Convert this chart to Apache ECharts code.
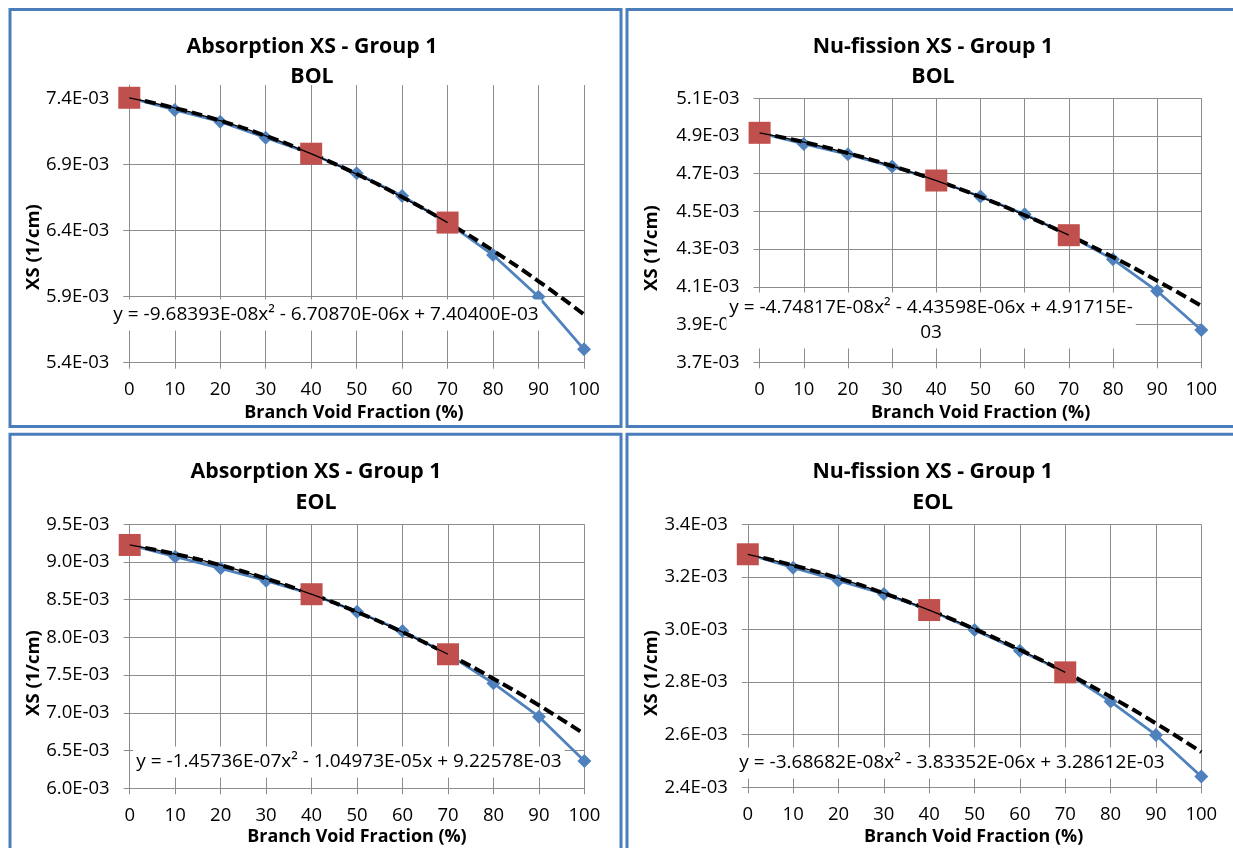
<!DOCTYPE html>
<html><head><meta charset="utf-8">
<script src="https://cdn.jsdelivr.net/npm/echarts@6/dist/echarts.min.js"></script>
<style>html,body{margin:0;padding:0;background:#fff}#c{width:1233px;height:848px}</style>
</head><body><div id="c"></div>
<script>
// ---- data (XS in 1/cm) ----
const voidFraction = [0, 10, 20, 30, 40, 50, 60, 70, 80, 90, 100];
const fitPoints = [0, 40, 70];

const absBOL    = [7.404e-3, 7.312e-3, 7.223e-3, 7.102e-3, 6.981e-3, 6.833e-3, 6.661e-3, 6.459e-3, 6.214e-3, 5.899e-3, 5.501e-3];
const absBOLFit = [7.404e-3, 7.327e-3, 7.231e-3, 7.116e-3, 6.981e-3, 6.827e-3, 6.653e-3, 6.460e-3, 6.248e-3, 6.016e-3, 5.765e-3];
const absBOLPts = [7.404e-3, 6.981e-3, 6.460e-3];
const absBOLTicks = [5.4e-3, 5.9e-3, 6.4e-3, 6.9e-3, 7.4e-3];

const nufBOL    = [4.917e-3, 4.858e-3, 4.803e-3, 4.738e-3, 4.664e-3, 4.579e-3, 4.485e-3, 4.374e-3, 4.246e-3, 4.078e-3, 3.871e-3];
const nufBOLFit = [4.917e-3, 4.868e-3, 4.809e-3, 4.741e-3, 4.664e-3, 4.577e-3, 4.480e-3, 4.374e-3, 4.258e-3, 4.133e-3, 3.999e-3];
const nufBOLPts = [4.917e-3, 4.664e-3, 4.374e-3];
const nufBOLTicks = [3.7e-3, 3.9e-3, 4.1e-3, 4.3e-3, 4.5e-3, 4.7e-3, 4.9e-3, 5.1e-3];

const absEOL    = [9.226e-3, 9.071e-3, 8.916e-3, 8.753e-3, 8.573e-3, 8.342e-3, 8.085e-3, 7.777e-3, 7.392e-3, 6.950e-3, 6.362e-3];
const absEOLFit = [9.226e-3, 9.106e-3, 8.958e-3, 8.780e-3, 8.573e-3, 8.337e-3, 8.071e-3, 7.777e-3, 7.453e-3, 7.101e-3, 6.719e-3];
const absEOLPts = [9.226e-3, 8.573e-3, 7.777e-3];
const absEOLTicks = [6.0e-3, 6.5e-3, 7.0e-3, 7.5e-3, 8.0e-3, 8.5e-3, 9.0e-3, 9.5e-3];

const nufEOL    = [3.286e-3, 3.235e-3, 3.186e-3, 3.135e-3, 3.074e-3, 2.998e-3, 2.919e-3, 2.837e-3, 2.726e-3, 2.599e-3, 2.441e-3];
const nufEOLFit = [3.286e-3, 3.244e-3, 3.195e-3, 3.138e-3, 3.074e-3, 3.002e-3, 2.923e-3, 2.837e-3, 2.744e-3, 2.643e-3, 2.534e-3];
const nufEOLPts = [3.286e-3, 3.074e-3, 2.837e-3];
const nufEOLTicks = [2.4e-3, 2.6e-3, 2.8e-3, 3.0e-3, 3.2e-3, 3.4e-3];

const titles = ['Absorption XS - Group 1', 'Nu-fission XS - Group 1', 'Absorption XS - Group 1', 'Nu-fission XS - Group 1'];
const subtitles = ['BOL', 'BOL', 'EOL', 'EOL'];
const equations = [
  'y = -9.68393E-08x\u00b2 - 6.70870E-06x + 7.40400E-03',
  'y = -4.74817E-08x\u00b2 - 4.43598E-06x + 4.91715E-\n03',
  'y = -1.45736E-07x\u00b2 - 1.04973E-05x + 9.22578E-03',
  'y = -3.68682E-08x\u00b2 - 3.83352E-06x + 3.28612E-03'
];
const xAxisTitle = 'Branch Void Fraction (%)';
const yAxisTitle = 'XS (1/cm)';

// ---- layout ----
const FONT = '"Open Sans"';
const GRID_C = '#8c8c8c';
const LABEL_SIZE = 18.5;
const panels = [
  {blue: absBOL, fit: absBOLFit, pts: absBOLPts, ticks: absBOLTicks, yMin: 5.4e-3, yMax: 7.5e-3, yInt: 0.5e-3,
   grid: {left: 129.3, top: 85.1, width: 454.7, height: 277.6},
   tX: 312, tY: 46.7, sY: 77.3, ytX: 34, ytY: 247, xtX: 354, xtY: 412.7, eqX: 326, eqY: 315, frame: [10, 9.5, 611, 417]},
  {blue: nufBOL, fit: nufBOLFit, pts: nufBOLPts, ticks: nufBOLTicks, yMin: 3.7e-3, yMax: 5.1e-3, yInt: 0.2e-3,
   grid: {left: 759.6, top: 98.3, width: 441.7, height: 264},
   tX: 933, tY: 46.7, sY: 77.3, ytX: 652, ytY: 248, xtX: 980.6, xtY: 412.7, eqX: 931, eqY: 320.5, frame: [627, 9.5, 640, 417]},
  {blue: absEOL, fit: absEOLFit, pts: absEOLPts, ticks: absEOLTicks, yMin: 6.0e-3, yMax: 9.5e-3, yInt: 0.5e-3,
   grid: {left: 129.7, top: 524.3, width: 454.7, height: 264},
   tX: 316, tY: 472.3, sY: 502.7, ytX: 34, ytY: 673, xtX: 357, xtY: 837.3, eqX: 349, eqY: 762, frame: [10, 434.3, 611, 440]},
  {blue: nufEOL, fit: nufEOLFit, pts: nufEOLPts, ticks: nufEOLTicks, yMin: 2.4e-3, yMax: 3.4e-3, yInt: 0.2e-3,
   grid: {left: 747.8, top: 524.3, width: 453.5, height: 263},
   tX: 932.7, tY: 472.3, sY: 502.7, ytX: 652, ytY: 673, xtX: 973.6, xtY: 837, eqX: 952, eqY: 763, frame: [627, 434.3, 640, 440]}
];

function fmtE(v) {
  const s = Number(v).toExponential(1);
  const parts = s.split('e');
  const n = parseInt(parts[1], 10);
  return parts[0] + 'E' + (n < 0 ? '-' : '+') + String(Math.abs(n)).padStart(2, '0');
}
const zip = (xs, ys) => xs.map((x, i) => [x, ys[i]]);

const grids = [], xAxes = [], yAxes = [], series = [], graphics = [];
panels.forEach((p, i) => {
  grids.push(Object.assign({containLabel: false}, p.grid));
  xAxes.push({
    type: 'value', gridIndex: i, min: 0, max: 100, interval: 10,
    axisLine: {show: true, onZero: false, lineStyle: {color: GRID_C, width: 1}},
    axisTick: {show: true, length: 6, lineStyle: {color: GRID_C}},
    splitLine: {show: true, lineStyle: {color: GRID_C, width: 1}},
    axisLabel: {fontFamily: FONT, fontSize: LABEL_SIZE, color: '#000', margin: 18}
  });
  yAxes.push({
    type: 'value', gridIndex: i, min: p.yMin, max: p.yMax, interval: p.yInt,
    axisLine: {show: true, lineStyle: {color: GRID_C, width: 1}},
    axisTick: {show: true, length: 6, lineStyle: {color: GRID_C}, customValues: p.ticks},
    splitLine: {show: true, showMaxLine: p.ticks[p.ticks.length - 1] >= p.yMax - 1e-9, lineStyle: {color: GRID_C, width: 1}},
    axisLabel: {fontFamily: FONT, fontSize: LABEL_SIZE, color: '#000', margin: 20, customValues: p.ticks, formatter: fmtE}
  });
  series.push({
    type: 'line', xAxisIndex: i, yAxisIndex: i, data: zip(voidFraction, p.blue),
    symbol: 'diamond', symbolSize: 14, showAllSymbol: true,
    lineStyle: {color: '#4f81bd', width: 2.75}, itemStyle: {color: '#4f81bd'}, z: 2
  });
  series.push({
    type: 'line', xAxisIndex: i, yAxisIndex: i, data: zip(voidFraction, p.fit), smooth: true,
    symbol: 'none', lineStyle: {color: '#000', width: 4, type: [11, 5]}, z: 3
  });
  series.push({
    type: 'scatter', xAxisIndex: i, yAxisIndex: i, data: zip(fitPoints, p.pts),
    symbol: 'rect', symbolSize: 22, itemStyle: {color: '#c0504d', opacity: 1}, z: 4
  });
  series.push({
    type: 'line', xAxisIndex: i, yAxisIndex: i, data: zip(voidFraction.slice(0, 8), p.fit.slice(0, 8)), smooth: true,
    symbol: 'none', lineStyle: {color: '#000', width: 1.3}, z: 5
  });
  const f = p.frame;
  graphics.push({type: 'rect', shape: {x: f[0], y: f[1], width: f[2], height: f[3]},
    style: {fill: 'none', stroke: '#4a7ebb', lineWidth: 3}, z: 50});
  const txt = (x, y, text, size, weight, extra) => Object.assign({
    type: 'text', x: x, y: y, z: 100,
    style: Object.assign({text: text, fill: '#000', font: weight + ' ' + size + 'px ' + FONT, align: 'center', verticalAlign: 'middle'}, extra || {})
  });
  graphics.push(txt(p.tX, p.tY, titles[i], 21.3, 'bold'));
  graphics.push(txt(p.tX, p.sY, subtitles[i], 21.3, 'bold'));
  graphics.push(txt(p.xtX, p.xtY, xAxisTitle, 17.9, 'bold'));
  const yt = txt(p.ytX, p.ytY, yAxisTitle, 18.5, 'bold');
  yt.rotation = Math.PI / 2;
  graphics.push(yt);
  graphics.push(txt(p.eqX, p.eqY, equations[i], 19, 'normal',
    {backgroundColor: '#fff', padding: [3, 3, 3, 3], lineHeight: 25}));
});

const chart = echarts.init(document.getElementById('c'), null, {renderer: 'canvas'});
chart.setOption({
  backgroundColor: '#fff',
  animation: false,
  grid: grids, xAxis: xAxes, yAxis: yAxes, series: series,
  graphic: {elements: graphics}
});
</script></body></html>
